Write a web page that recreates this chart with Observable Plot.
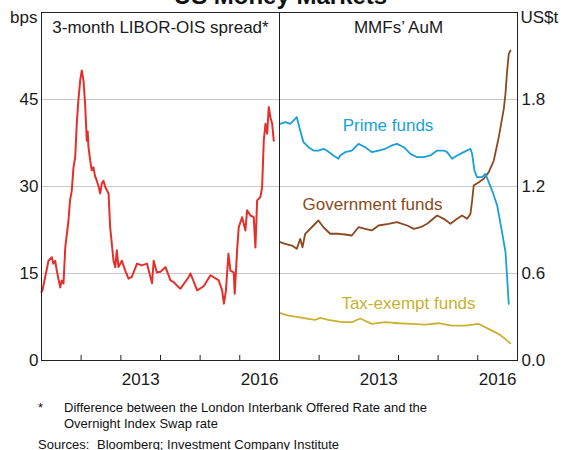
<!DOCTYPE html>
<html>
<head>
<meta charset="utf-8">
<script src="https://cdn.jsdelivr.net/npm/d3@7"></script>
<script src="https://cdn.jsdelivr.net/npm/@observablehq/plot@0.6"></script>
<style>
  body { margin: 0; background: #fff; font-family: Arial, "Liberation Sans", sans-serif; }
  #wrap { position: relative; width: 561px; height: 450px; overflow: hidden; background: #fff; }
  #title { position: absolute; left: 0; width: 561px; top: -15.8px; text-align: center; font-weight: bold; font-size: 24px; line-height: 24px; color: #111; z-index: 3; }
  #left, #right { position: absolute; top: 0; }
  #left { left: 0; }
  #right { left: 270px; }
  .note { position: absolute; font-size: 13px; line-height: 16px; color: #111; white-space: nowrap; }
</style>
</head>
<body>
<div id="wrap">
  <div id="title">US Money Markets</div>
  <div id="left"></div>
  <div id="right"></div>
  <div class="note" style="top:399.5px; left:38px;">*</div>
  <div class="note" style="top:399.5px; left:64px;">Difference between the London Interbank Offered Rate and the<br>Overnight Index Swap rate</div>
  <div class="note" style="top:437px; left:38px;">Sources:</div>
  <div class="note" style="top:437px; left:97px;">Bloomberg; Investment Company Institute</div>
</div>
<script>
// ---------- data (time in decimal years) ----------
const liborTime = [2011.0, 2011.025, 2011.093, 2011.176, 2011.26, 2011.30, 2011.345, 2011.386, 2011.47, 2011.51,
  2011.555, 2011.60, 2011.68, 2011.72, 2011.764, 2011.807, 2011.85, 2011.89, 2011.93, 2011.976,
  2012.016, 2012.059, 2012.10, 2012.142, 2012.165, 2012.185, 2012.228, 2012.268, 2012.31, 2012.35,
  2012.394, 2012.44, 2012.48, 2012.52, 2012.563, 2012.606, 2012.69, 2012.73, 2012.815, 2012.858,
  2012.898, 2012.94, 2013.024, 2013.11, 2013.193, 2013.276, 2013.407, 2013.528, 2013.66, 2013.786,
  2013.828, 2013.906, 2014.0, 2014.126, 2014.252, 2014.335, 2014.46, 2014.504, 2014.713, 2014.756,
  2014.925, 2015.09, 2015.26, 2015.47, 2015.555, 2015.60, 2015.65, 2015.714, 2015.764, 2015.848,
  2015.873, 2015.933, 2015.974, 2016.059, 2016.142, 2016.185, 2016.268, 2016.351, 2016.394, 2016.437,
  2016.52, 2016.563, 2016.604, 2016.647, 2016.69, 2016.73, 2016.773, 2016.815, 2016.856];
const liborSpread = [11.8, 12.1, 14.4, 17.2, 17.8, 16.7, 17.2, 15.5, 12.6, 13.8,
  13.3, 19.5, 24.1, 27.6, 29.3, 33.3, 35.0, 40.8, 44.8, 48.3,
  50.0, 48.3, 44.3, 37.9, 39.5, 36.8, 34.5, 32.8, 33.3, 31.8,
  31.0, 30.0, 28.8, 30.5, 31.0, 29.9, 28.8, 23.0, 17.2, 16.1,
  19.0, 16.1, 17.2, 15.5, 14.1, 14.4, 16.7, 16.4, 16.7, 13.3,
  17.2, 15.2, 15.3, 16.1, 13.8, 13.5, 12.6, 12.4, 14.4, 15.0,
  12.1, 12.8, 14.7, 13.8, 12.1, 9.8, 12.0, 18.4, 15.5, 15.2,
  11.5, 19.0, 23.0, 24.7, 22.4, 25.9, 25.0, 24.7, 19.5, 27.6,
  28.2, 29.9, 37.9, 40.8, 39.1, 43.7, 41.9, 40.8, 37.9];

const primeTime = [2011.018, 2011.144, 2011.27, 2011.396, 2011.436, 2011.522, 2011.605, 2011.731, 2011.857, 2011.983,
  2012.109, 2012.192, 2012.361, 2012.487, 2012.53, 2012.656, 2012.823, 2012.991, 2013.16, 2013.327,
  2013.496, 2013.665, 2013.831, 2013.962, 2014.133, 2014.302, 2014.471, 2014.638, 2014.806, 2014.975,
  2015.142, 2015.227, 2015.353, 2015.479, 2015.646, 2015.815, 2015.858, 2015.916, 2015.984, 2016.11,
  2016.193, 2016.361, 2016.488, 2016.614, 2016.697, 2016.74, 2016.78];
const primeFunds = [1.632, 1.644, 1.632, 1.667, 1.678, 1.586, 1.506, 1.471, 1.448, 1.448,
  1.46, 1.448, 1.414, 1.391, 1.414, 1.437, 1.448, 1.494, 1.471, 1.437,
  1.448, 1.46, 1.483, 1.494, 1.471, 1.425, 1.402, 1.402, 1.414, 1.448,
  1.448, 1.437, 1.391, 1.414, 1.437, 1.46, 1.425, 1.31, 1.264, 1.264,
  1.287, 1.172, 1.07, 0.88, 0.75, 0.57, 0.39];

const govTime = [2011.018, 2011.144, 2011.31, 2011.436, 2011.522, 2011.58, 2011.648, 2011.857, 2011.983, 2012.109,
  2012.278, 2012.487, 2012.656, 2012.823, 2012.991, 2013.16, 2013.327, 2013.496, 2013.748, 2013.958,
  2014.219, 2014.385, 2014.554, 2014.722, 2014.975, 2015.142, 2015.311, 2015.479, 2015.605, 2015.731,
  2015.815, 2015.858, 2015.898, 2016.025, 2016.151, 2016.277, 2016.403, 2016.529, 2016.655, 2016.697,
  2016.74, 2016.78, 2016.823];
const govFunds = [0.816, 0.805, 0.793, 0.77, 0.839, 0.781, 0.874, 0.931, 0.966, 0.919,
  0.874, 0.874, 0.869, 0.862, 0.919, 0.908, 0.897, 0.931, 0.943, 0.955,
  0.931, 0.908, 0.919, 0.943, 1.0, 0.977, 0.943, 0.977, 1.0, 0.977,
  1.011, 1.103, 1.207, 1.23, 1.253, 1.299, 1.379, 1.54, 1.735, 1.839,
  2.0, 2.115, 2.138];

const taxTime = [2011.018, 2011.227, 2011.479, 2011.731, 2011.9, 2012.026, 2012.235, 2012.57, 2012.823, 2013.034,
  2013.327, 2013.665, 2014.0, 2014.335, 2014.673, 2015.008, 2015.343, 2015.681, 2016.016, 2016.268,
  2016.52, 2016.689, 2016.816];
const taxExemptFunds = [0.326, 0.31, 0.299, 0.287, 0.28, 0.294, 0.28, 0.264, 0.264, 0.29,
  0.253, 0.264, 0.257, 0.253, 0.248, 0.257, 0.241, 0.241, 0.253, 0.218,
  0.184, 0.149, 0.119];

const leftTicks = [0, 15, 30, 45];
const rightTicks = [0, 0.6, 1.2, 1.8];
const yearBoundaries = [2011, 2012, 2013, 2014, 2015, 2016, 2017];
const yearLabels = [2013, 2016];

// ---------- helpers ----------
const toDate = t => {
  const y = Math.floor(t);
  const a = Date.UTC(y, 0, 1), b = Date.UTC(y + 1, 0, 1);
  return new Date(a + (t - y) * (b - a));
};
const series = (ts, vs) => ts.map((t, i) => ({date: toDate(t), value: vs[i]}));
const libor = series(liborTime, liborSpread);
const prime = series(primeTime, primeFunds);
const gov = series(govTime, govFunds);
const tax = series(taxTime, taxExemptFunds);
const tickDates = yearBoundaries.map(y => toDate(y));
const labelDates = yearLabels.map(y => toDate(y + 0.5));

const FONT = "Arial, 'Liberation Sans', sans-serif";
const INK = "#1a1a1a";
const GRID = "#c8c8c8";
const FRAME = "#222";
const RED = "#e4302b", BLUE = "#1a9fd9", BROWN = "#8a4a21", GOLD = "#c9b132";
const H = 395, MT = 12, MB = 35;
const xDomain = [toDate(2011), toDate(2017)];
const baseStyle = {background: "transparent", overflow: "visible", fontFamily: FONT, fontSize: "17px", color: INK};

const leftPlot = Plot.plot({
  width: 290, height: H,
  marginLeft: 41, marginRight: 11, marginTop: MT, marginBottom: MB,
  style: baseStyle,
  x: {type: "utc", domain: xDomain, label: null},
  y: {domain: [0, 60], label: null},
  marks: [
    Plot.gridY(leftTicks.filter(v => v > 0), {stroke: GRID, strokeOpacity: 1}),
    Plot.line(libor, {x: "date", y: "value", stroke: RED, strokeWidth: 2}),
    Plot.tickX(tickDates, {x: d => d, stroke: FRAME, insetTop: H - MT - MB - 5}),
    Plot.frame({stroke: FRAME}),
    Plot.axisY(leftTicks, {tickSize: 0, tickPadding: 3, fontSize: 17}),
    Plot.axisX(labelDates, {tickSize: 0, tickPadding: 12, fontSize: 17, tickFormat: d => String(d.getUTCFullYear())}),
    Plot.text(["3-month LIBOR-OIS spread*"], {frameAnchor: "top", lineAnchor: "top", dy: 8, fontSize: 17, fill: INK}),
    Plot.text(["bps"], {frameAnchor: "top-left", lineAnchor: "top", textAnchor: "end", dx: -4, dy: -2, fontSize: 17, fill: INK})
  ]
});

const rightPlot = Plot.plot({
  width: 291, height: H,
  marginLeft: 9, marginRight: 44, marginTop: MT, marginBottom: MB,
  style: baseStyle,
  x: {type: "utc", domain: xDomain, label: null},
  y: {domain: [0, 2.4], label: null},
  marks: [
    Plot.gridY(rightTicks.filter(v => v > 0), {stroke: GRID, strokeOpacity: 1}),
    Plot.line(tax, {x: "date", y: "value", stroke: GOLD, strokeWidth: 1.8}),
    Plot.line(gov, {x: "date", y: "value", stroke: BROWN, strokeWidth: 1.8}),
    Plot.line(prime, {x: "date", y: "value", stroke: BLUE, strokeWidth: 1.8}),
    Plot.tickX(tickDates, {x: d => d, stroke: FRAME, insetTop: H - MT - MB - 5}),
    Plot.frame({stroke: FRAME}),
    Plot.axisY(rightTicks, {anchor: "right", tickSize: 0, tickPadding: 4, fontSize: 17, tickFormat: d => d.toFixed(1)}),
    Plot.axisX(labelDates, {tickSize: 0, tickPadding: 12, fontSize: 17, tickFormat: d => String(d.getUTCFullYear())}),
    Plot.text(["MMFs\u2019 AuM"], {frameAnchor: "top", lineAnchor: "top", dy: 8, fontSize: 17, fill: INK}),
    Plot.text(["US$t"], {frameAnchor: "top-right", lineAnchor: "top", textAnchor: "start", dx: 3, dy: -2, fontSize: 17, fill: INK}),
    Plot.text(["Prime funds"], {x: () => toDate(2013.735), y: () => 1.617, fontSize: 17, fill: BLUE}),
    Plot.text(["Government funds"], {x: () => toDate(2013.344), y: () => 1.077, fontSize: 17, fill: BROWN}),
    Plot.text(["Tax-exempt funds"], {x: () => toDate(2014.252), y: () => 0.396, fontSize: 17, fill: GOLD})
  ]
});

document.getElementById("left").appendChild(leftPlot);
document.getElementById("right").appendChild(rightPlot);
</script>
</body>
</html>
